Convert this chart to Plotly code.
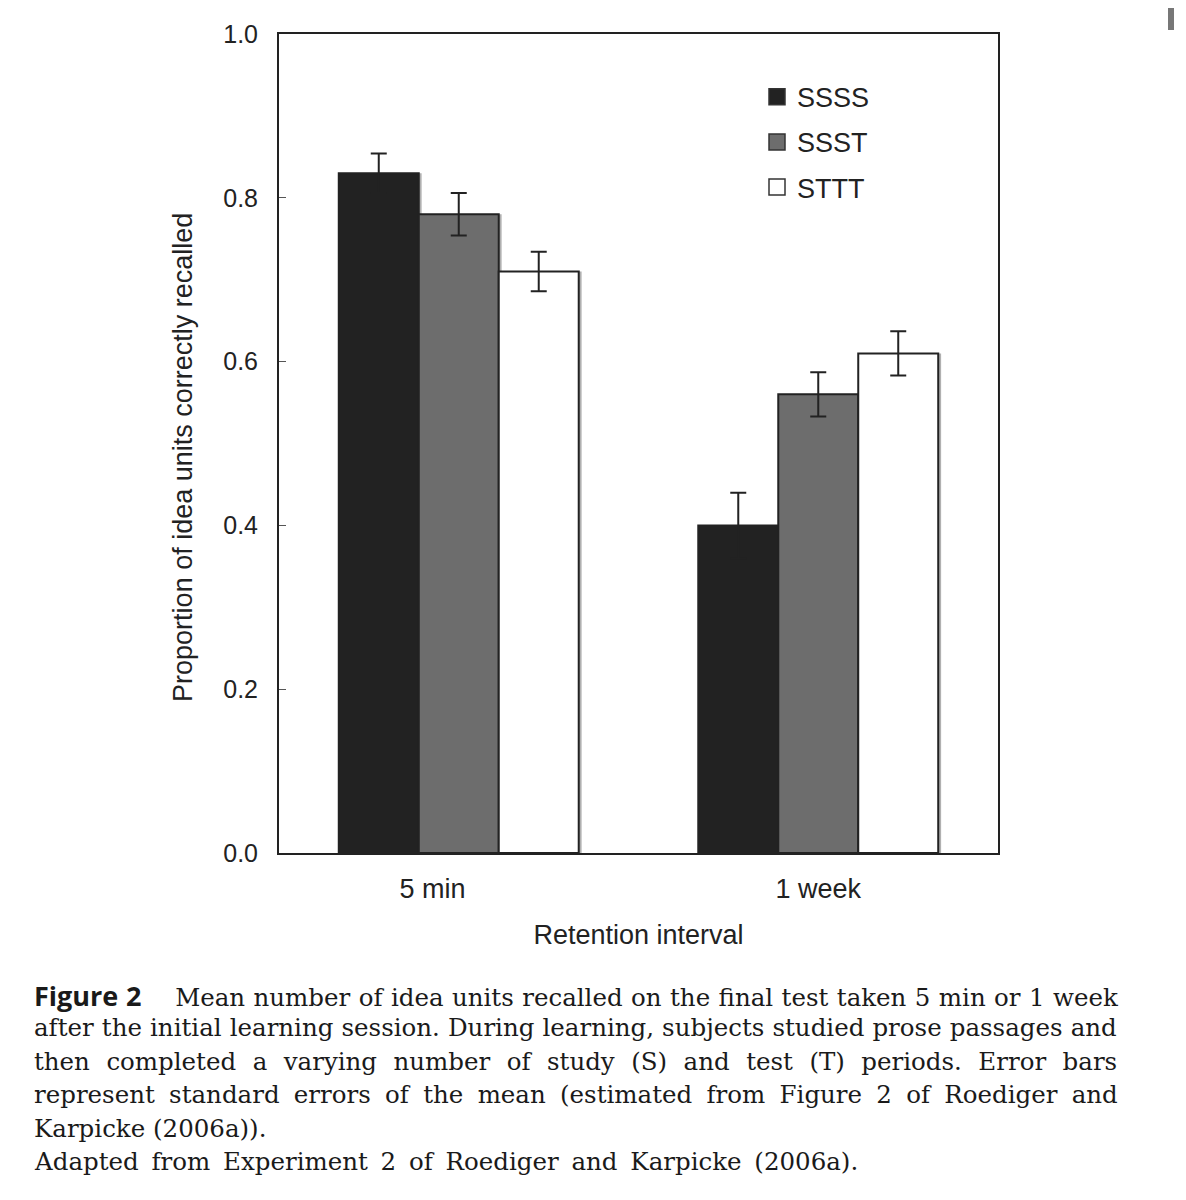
import plotly.graph_objects as go

# data
intervals = ["5 min", "1 week"]
# the "5 min" label sits left of its group in the original
interval_labels = ["5 min" + "\u00a0" * 7, "1 week"]
conditions = ["SSSS", "SSST", "STTT"]
recall = {
    "SSSS": [0.83, 0.40],
    "SSST": [0.78, 0.56],
    "STTT": [0.71, 0.61],
}
sem = {
    "SSSS": [0.024, 0.040],
    "SSST": [0.026, 0.027],
    "STTT": [0.024, 0.027],
}
colors = {"SSSS": "#222222", "SSST": "#6d6d6d", "STTT": "#ffffff"}

# caption text, one entry per printed line, with word spacing used to justify
caption_lines = [
    ("<span style='font-family:Open Sans;font-size:27px'><b>Figure 2</b></span>    Mean number of idea units recalled on the final test taken 5 min or 1 week", 0.65),
    ("after the initial learning session. During learning, subjects studied prose passages and", 0.3),
    ("then completed a varying number of study (S) and test (T) periods. Error bars", 8.7),
    ("represent standard errors of the mean (estimated from Figure 2 of Roediger and", 6.5),
    ("Karpicke (2006a)).", 0),
    ("Adapted from Experiment 2 of Roediger and Karpicke (2006a).", 5),
]
y_title = "Proportion of idea units correctly recalled"

W, H = 1186, 1200
OFF = 8  # page body margin
L, R, T, B = 279 - OFF, 998 - OFF, 30 - OFF, 853 - OFF


def px(x, y):
    # screenshot pixel position -> paper coordinates
    return (x - OFF - L) / (R - L), (B - (y - OFF)) / (B - T)


bar_width = 0.2225
fig = go.Figure()

# soft drop shadow behind each bar
for i, c in enumerate(conditions):
    fig.add_trace(
        go.Bar(
            x=intervals,
            y=recall[c],
            width=bar_width,
            offset=(i - 1.5) * bar_width + 0.008,
            marker=dict(color="#b0b0b0", line=dict(width=0)),
            showlegend=False,
            hoverinfo="skip",
        )
    )

for i, c in enumerate(conditions):
    fig.add_trace(
        go.Bar(
            x=intervals,
            y=recall[c],
            name=c,
            width=bar_width,
            offset=(i - 1.5) * bar_width,
            marker=dict(color=colors[c], line=dict(color="#222222", width=2)),
            error_y=dict(
                type="data", array=sem[c], color="#222222", thickness=2, width=8
            ),
            showlegend=False,
        )
    )
    # legend entry with a bigger square
    fig.add_trace(
        go.Scatter(
            x=[None],
            y=[None],
            mode="markers",
            name=c,
            legendgroup=c,
            marker=dict(
                symbol="square",
                size=16,
                color=colors[c],
                line=dict(color="#333333", width=1.5),
            ),
        )
    )

font = dict(family="Liberation Sans, Arial", size=27, color="#222222")
tick_font = dict(family="Liberation Sans, Arial", size=25, color="#222222")

fig.update_layout(
    width=W,
    height=H,
    margin=dict(l=L, r=W - R, t=T, b=H - B, pad=0),
    paper_bgcolor="white",
    plot_bgcolor="white",
    barmode="overlay",
    font=font,
    legend=dict(
        x=px(757, 0)[0],
        y=px(0, 69)[1],
        xanchor="left",
        yanchor="top",
        font=dict(family="Liberation Sans, Arial", size=27, color="#222222"),
        bgcolor="rgba(0,0,0,0)",
        tracegroupgap=7,
        itemwidth=30,
    ),
    xaxis=dict(
        showline=True,
        mirror=True,
        linecolor="#222222",
        linewidth=2,
        ticks="",
        tickmode="array",
        tickvals=intervals,
        ticktext=interval_labels,
        ticklabelstandoff=11,
        title=dict(text="Retention interval", standoff=22, font=font),
        tickfont=font,
    ),
    yaxis=dict(
        range=[0, 1.0],
        tickvals=[0, 0.2, 0.4, 0.6, 0.8, 1.0],
        tickformat=".1f",
        showline=True,
        mirror=True,
        linecolor="#222222",
        linewidth=2,
        showgrid=False,
        zeroline=False,
        ticks="inside",
        ticklen=7,
        tickwidth=1,
        tickcolor="#555555",
        ticklabelstandoff=14,
        tickfont=tick_font,
    ),
)

# y axis title, placed a little below the middle as in the original
xp, yp = px(183, 456)
fig.add_annotation(
    x=xp,
    y=yp,
    xref="paper",
    yref="paper",
    xanchor="center",
    yanchor="middle",
    text=y_title,
    textangle=-90,
    showarrow=False,
    font=font,
)

# caption under the chart
line_y = [996, 1028, 1063, 1096, 1130, 1163]
for (text, ws), y in zip(caption_lines, line_y):
    xp, yp = px(32, y)
    fig.add_annotation(
        x=xp,
        y=yp,
        xref="paper",
        yref="paper",
        xanchor="left",
        yanchor="middle",
        text=f"<span style='word-spacing:{ws}px'>{text}</span>",
        showarrow=False,
        align="left",
        font=dict(family="DejaVu Serif", size=24.5, color="#1a1a1a"),
    )

# scrollbar remnant in the top right corner of the screenshot
x0, y0 = px(1171, 3)
x1, y1 = px(1171, 26)
fig.add_shape(
    type="line",
    xref="paper",
    yref="paper",
    x0=x0,
    y0=y0,
    x1=x1,
    y1=y1,
    line=dict(color="#777777", width=6),
)

fig.write_html("out.html")
